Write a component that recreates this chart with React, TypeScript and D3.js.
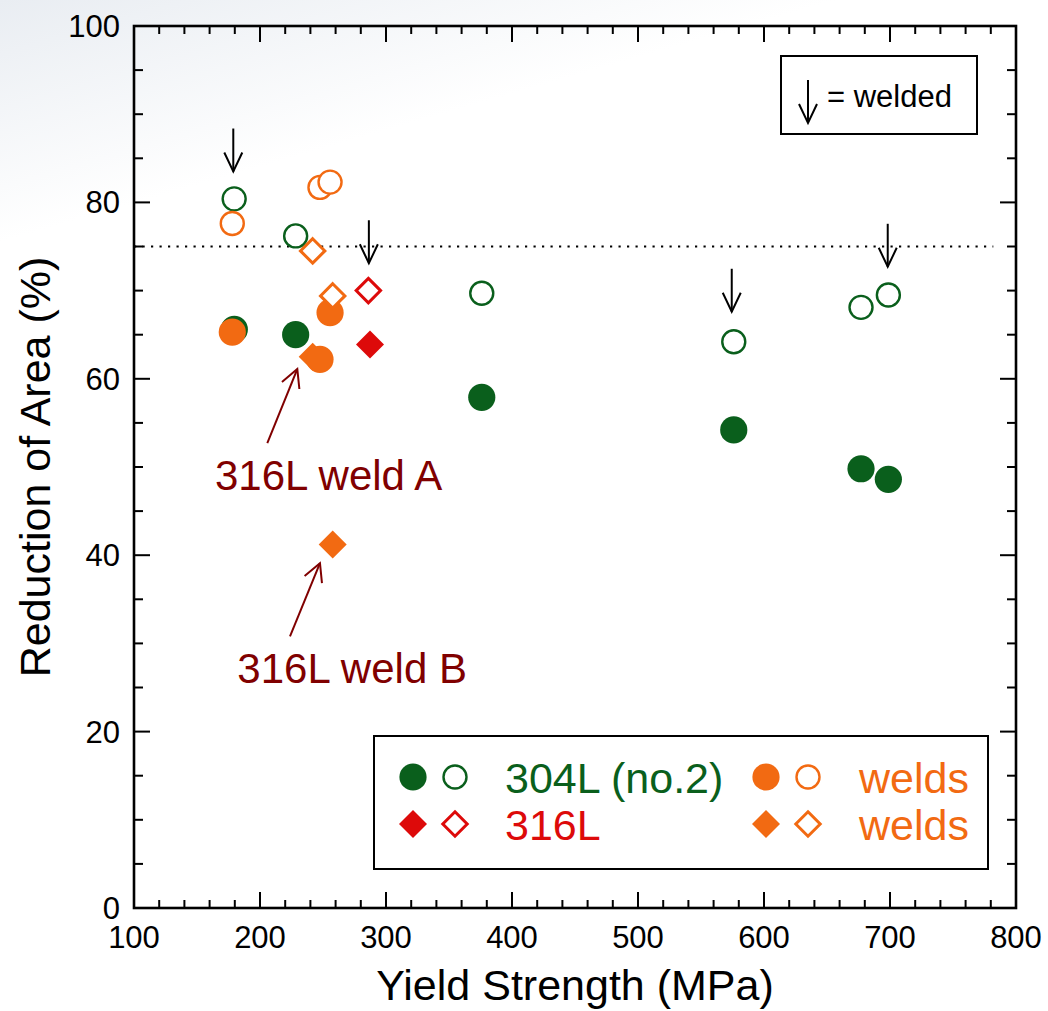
import React from 'react';
import * as d3 from 'd3';

const W = 1048;
const H = 1011;
const margin = { top: 26, right: 32, bottom: 103, left: 134 };

const GREEN = '#0a5f1c';
const ORANGE = '#f26a12';
const RED = '#dd0a0a';
const DARKRED = '#800000';
const FONT = '"Liberation Sans", Arial, Helvetica, sans-serif';

// [yield strength MPa, reduction of area %]
const s304Filled = [[179.6, 65.6], [228.3, 65.0], [376, 57.9], [576, 54.2], [677, 49.8], [698.7, 48.6]];
const s304Open = [[179.5, 80.4], [228.3, 76.2], [376, 69.7], [576, 64.2], [677, 68.1], [698.7, 69.5]];
const s316Filled = [[287.3, 63.9]];
const s316Open = [[286, 70.0]];
const weldCircleFilled = [[178, 65.3], [255.6, 67.5], [247.6, 62.2]];
const weldCircleOpen = [[178, 77.6], [247.6, 81.7], [255.6, 82.3]];
const weldDiamondFilled = [[241.8, 62.5], [257.7, 41.2]];
const weldDiamondOpen = [[241.8, 74.5], [257.7, 69.4]];

// "welded" arrows: x and tip y
const weldedArrows = [[178.8, 83.5], [286.4, 73.1], [574.4, 67.6], [698.2, 72.7]];

const xTicks = [100, 200, 300, 400, 500, 600, 700, 800];
const yTicks = [0, 20, 40, 60, 80, 100];
const refLine = 75;

const notes = [
  { text: '316L weld A', tx: 164.3, ty: 47.4, from: [205.8, 52.7], to: [229.6, 61.1] },
  { text: '316L weld B', tx: 182, ty: 25.5, from: [223.8, 30.8], to: [247.6, 39.1] },
];

const x = d3.scaleLinear().domain([100, 800]).range([margin.left, W - margin.right]);
const y = d3.scaleLinear().domain([0, 100]).range([H - margin.bottom, margin.top]);

const Marker = ({ cx, cy, shape, filled, color }) => {
  if (shape === 'circle') {
    return filled
      ? <circle cx={cx} cy={cy} r={13.6} fill={color} />
      : <circle cx={cx} cy={cy} r={11.5} fill="#fff" stroke={color} strokeWidth={2.4} />;
  }
  const h = filled ? 14 : 12.2;
  const d = `M${cx},${cy - h}L${cx + h},${cy}L${cx},${cy + h}L${cx - h},${cy}Z`;
  return filled
    ? <path d={d} fill={color} />
    : <path d={d} fill="#fff" stroke={color} strokeWidth={3} />;
};

const DownArrow = ({ px, tip }) => (
  <g stroke="#000" strokeWidth={2} fill="none">
    <line x1={px} x2={px} y1={tip - 43} y2={tip} />
    <polyline points={`${px - 9},${tip - 19} ${px},${tip} ${px + 9},${tip - 19}`} />
  </g>
);

const NoteArrow = ({ x1, y1, x2, y2 }) => {
  const a = Math.atan2(y1 - y2, x1 - x2);
  const L = 20;
  const t = (28 * Math.PI) / 180;
  const w1 = [x2 + L * Math.cos(a + t), y2 + L * Math.sin(a + t)];
  const w2 = [x2 + L * Math.cos(a - t), y2 + L * Math.sin(a - t)];
  return (
    <g stroke={DARKRED} strokeWidth={2} fill="none">
      <line x1={x1} y1={y1} x2={x2} y2={y2} />
      <polyline points={`${w1[0]},${w1[1]} ${x2},${y2} ${w2[0]},${w2[1]}`} />
    </g>
  );
};

const series = [
  { data: s304Filled, shape: 'circle', filled: true, color: GREEN },
  { data: s304Open, shape: 'circle', filled: false, color: GREEN },
  { data: weldDiamondFilled, shape: 'diamond', filled: true, color: ORANGE },
  { data: weldCircleFilled, shape: 'circle', filled: true, color: ORANGE },
  { data: s316Filled, shape: 'diamond', filled: true, color: RED },
  { data: s316Open, shape: 'diamond', filled: false, color: RED },
  { data: weldCircleOpen, shape: 'circle', filled: false, color: ORANGE },
  { data: weldDiamondOpen, shape: 'diamond', filled: false, color: ORANGE },
];

export default function App() {
  const x0 = margin.left;
  const x1 = W - margin.right;
  const y0 = H - margin.bottom;
  const y1 = margin.top;
  const xMinor = d3.range(100, 801, 20);
  const yMinor = d3.range(0, 101, 5);

  return (
    <svg width={W} height={H} style={{ position: 'absolute', left: 0, top: 0, display: 'block' }} fontFamily={FONT}>
      <defs>
        <linearGradient id="bg" x1="0" y1="0" x2="0.3" y2="1">
          <stop offset="0" stopColor="#e9edf2" />
          <stop offset="0.22" stopColor="#ffffff" />
          <stop offset="1" stopColor="#ffffff" />
        </linearGradient>
      </defs>
      <rect width={W} height={H} fill="url(#bg)" />

      {/* reference line */}
      <line x1={x(100)} x2={x(782)} y1={y(refLine)} y2={y(refLine)} stroke="#000" strokeWidth={2.2} strokeDasharray="2.2,6.3" />

      {/* ticks: all four sides, inward */}
      <g stroke="#000" strokeWidth={2}>
        {xMinor.map(v => {
          const len = v % 100 === 0 ? 16 : 8;
          return (
            <g key={'xt' + v}>
              <line x1={x(v)} x2={x(v)} y1={y0} y2={y0 - len} />
              <line x1={x(v)} x2={x(v)} y1={y1} y2={y1 + len} />
            </g>
          );
        })}
        {yMinor.map(v => {
          const len = v % 20 === 0 ? 16 : 9;
          return (
            <g key={'yt' + v}>
              <line x1={x0} x2={x0 + len} y1={y(v)} y2={y(v)} />
              <line x1={x1} x2={x1 - len} y1={y(v)} y2={y(v)} />
            </g>
          );
        })}
      </g>
      <rect x={x0} y={y1} width={x1 - x0} height={y0 - y1} fill="none" stroke="#000" strokeWidth={2.6} />

      {/* tick labels */}
      {xTicks.map(v => (
        <text key={'xl' + v} x={x(v)} y={y0 + 40} fontSize={31} textAnchor="middle">{v}</text>
      ))}
      {yTicks.map(v => (
        <text key={'yl' + v} x={x0 - 14} y={y(v) + 11} fontSize={31} textAnchor="end">{v}</text>
      ))}

      {/* axis titles */}
      <text x={(x0 + x1) / 2} y={1000} fontSize={43} textAnchor="middle">Yield Strength (MPa)</text>
      <text transform={`translate(50,${(y0 + y1) / 2}) rotate(-90)`} fontSize={43} textAnchor="middle">Reduction of Area (%)</text>

      {/* data */}
      {series.map((s, i) => (
        <g key={'s' + i}>
          {s.data.map((d, j) => (
            <Marker key={j} cx={x(d[0])} cy={y(d[1])} shape={s.shape} filled={s.filled} color={s.color} />
          ))}
        </g>
      ))}

      {weldedArrows.map((d, i) => (
        <DownArrow key={'wa' + i} px={x(d[0])} tip={y(d[1])} />
      ))}

      {/* annotations */}
      {notes.map((n, i) => (
        <g key={'n' + i}>
          <NoteArrow x1={x(n.from[0])} y1={y(n.from[1])} x2={x(n.to[0])} y2={y(n.to[1])} />
          <text x={x(n.tx)} y={y(n.ty)} fontSize={42} fill={DARKRED}>{n.text}</text>
        </g>
      ))}

      {/* welded legend */}
      <rect x={781} y={56} width={196} height={78} fill="#fff" stroke="#000" strokeWidth={2} />
      <DownArrow px={808} tip={123} />
      <text x={827} y={107} fontSize={31}>= welded</text>

      {/* series legend */}
      <rect x={374} y={736} width={614} height={133} fill="#fff" stroke="#000" strokeWidth={2} />
      <Marker cx={413} cy={777} shape="circle" filled color={GREEN} />
      <Marker cx={455} cy={777} shape="circle" filled={false} color={GREEN} />
      <text x={505} y={793} fontSize={43} fill={GREEN}>304L (no.2)</text>
      <Marker cx={766} cy={777} shape="circle" filled color={ORANGE} />
      <Marker cx={808} cy={777} shape="circle" filled={false} color={ORANGE} />
      <text x={859} y={793} fontSize={43} fill={ORANGE}>welds</text>

      <Marker cx={413} cy={824} shape="diamond" filled color={RED} />
      <Marker cx={455} cy={824} shape="diamond" filled={false} color={RED} />
      <text x={505} y={840} fontSize={43} fill={RED}>316L</text>
      <Marker cx={766} cy={824} shape="diamond" filled color={ORANGE} />
      <Marker cx={808} cy={824} shape="diamond" filled={false} color={ORANGE} />
      <text x={859} y={840} fontSize={43} fill={ORANGE}>welds</text>
    </svg>
  );
}
